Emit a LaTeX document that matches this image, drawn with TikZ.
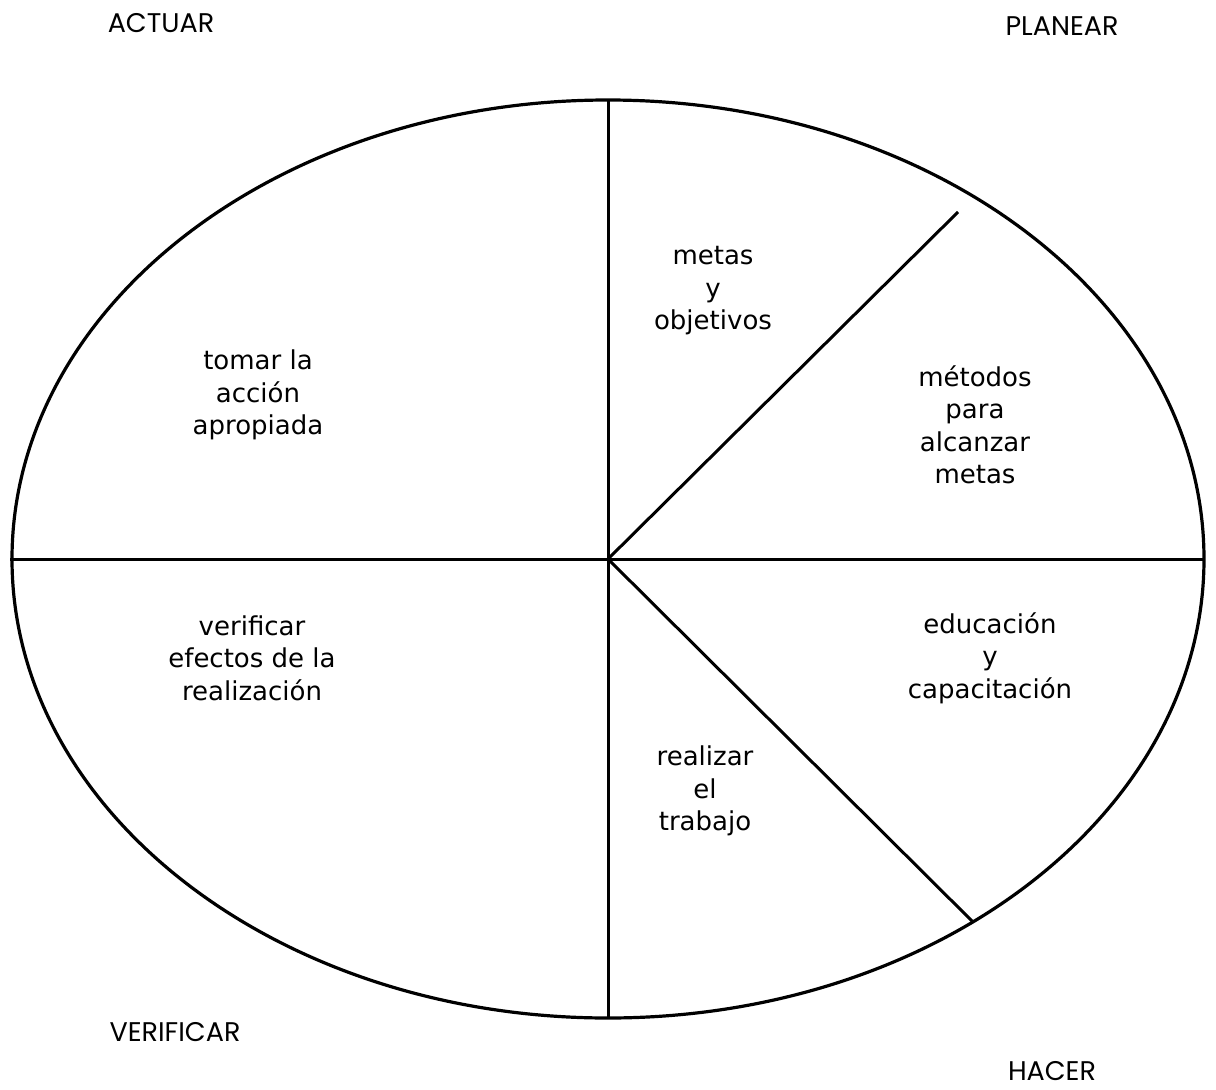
\documentclass[tikz,border=0pt]{standalone}
\usepackage{fontspec}
\setmainfont{DejaVu Sans}
\newfontfamily\phasefont{Poppins}
\begin{document}
\begin{tikzpicture}[x=1pt,y=-1pt,
  rim/.style={line width=3.2pt, black},
  seg/.style={line width=3pt, black},
  inner/.style={font=\fontsize{26}{32.5}\selectfont, align=center, inner sep=0pt},
  phase/.style={font=\phasefont\fontsize{27}{30}\selectfont, inner sep=0pt}]
  \useasboundingbox (0,0) rectangle (1216,1090);
  % centre and rim points of the cycle
  \coordinate (c) at (608,559);
  \coordinate (top) at (608,100);
  \coordinate (bot) at (608,1018);
  \coordinate (lft) at (10,559);
  \coordinate (rgt) at (1204,559);
  \coordinate (ur) at (958,212);
  \coordinate (lr) at (973,922);
  % outer ellipse and its dividing lines
  \draw[rim] (c) ellipse[x radius=596, y radius=459];
  \draw[seg] (top) -- (bot);
  \draw[seg] (lft) -- (rgt);
  \draw[seg] (c) -- (ur);
  \draw[seg] (c) -- (lr);
  % phase names
  \node[phase] (actuar) at (161,23) {ACTUAR};
  \node[phase] (planear) at (1062,26) {PLANEAR};
  \node[phase] (verificar) at (175,1032) {VERIFICAR};
  \node[phase] (hacer) at (1052,1071) {HACER};
  % sector texts
  \node[inner] (metas) at (713,291) {metas\\y\\objetivos};
  \node[inner] (tomar) at (258,395) {tomar la\\acción\\apropiada};
  \node[inner] (metodos) at (975,425) {métodos\\para\\alcanzar\\metas};
  \node[inner] (verif) at (252,658) {verificar\\efectos de la\\realización};
  \node[inner] (educ) at (990,658) {educación\\y\\capacitación};
  \node[inner] (realizar) at (705,791) {realizar\\el\\trabajo};
\end{tikzpicture}
\end{document}
